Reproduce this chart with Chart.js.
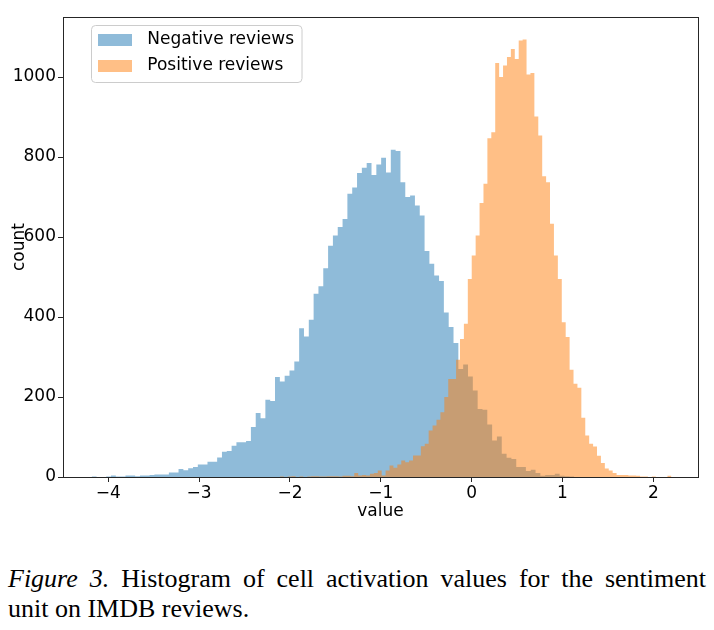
<!DOCTYPE html>
<html>
<head>
<meta charset="utf-8">
<script src="https://cdn.jsdelivr.net/npm/chart.js@4/dist/chart.umd.min.js"></script>
<style>
html, body { margin: 0; padding: 0; background: #fff; }
#wrap { position: absolute; left: 0; top: 0; width: 714px; height: 530px; }
#cap { position: absolute; left: 8px; top: 564px; width: 698px; font-family: "Liberation Serif", "Times New Roman", serif; font-size: 26px; line-height: 30px; color: #000; }
#cap .l1 { text-align: justify; text-align-last: justify; white-space: nowrap; }
#cap .l2 { text-align: left; }
</style>
</head>
<body>
<div id="wrap"><canvas id="c" width="714" height="530"></canvas></div>
<div id="cap">
  <div class="l1"><i>Figure 3.</i> Histogram of cell activation values for the sentiment</div>
  <div class="l2">unit on IMDB reviews.</div>
</div>
<script>
// ---- data ----
const seriesLabels = ['Negative reviews', 'Positive reviews'];

// histogram bin layout (value units)
const negBinStart = -4.1827, negBinWidth = 0.05311;
const posBinStart = -2.1109, posBinWidth = 0.04310;

const negCounts = [
  1, 0, 0, 1, 4, 1, 1, 4, 4, 2,
  4, 4, 5, 6, 6, 6, 11, 11, 20, 17,
  22, 25, 31, 31, 38, 38, 49, 63, 65, 78,
  87, 87, 90, 125, 160, 147, 193, 190, 250, 239,
  253, 266, 289, 372, 351, 393, 458, 477, 522, 578,
  604, 625, 645, 708, 724, 760, 773, 785, 755, 781,
  798, 761, 818, 815, 737, 700, 704, 679, 654, 565,
  533, 504, 490, 411, 375, 335, 270, 281, 251, 216,
  170, 168, 131, 91, 101, 58, 48, 45, 25, 25,
  15, 18, 10, 3, 5, 5, 8, 3, 2, 1
];

const posCounts = [
  1, 0, 1, 2, 0, 1, 0, 1, 2, 2,
  1, 1, 2, 2, 2, 1, 3, 3, 2, 10,
  4, 5, 4, 8, 10, 16, 4, 16, 29, 23,
  31, 41, 37, 41, 54, 54, 77, 83, 116, 129,
  143, 162, 200, 245, 245, 293, 345, 383, 495, 554,
  604, 685, 733, 847, 862, 1035, 1000, 1029, 1050, 1070,
  1045, 1091, 1094, 1006, 1010, 901, 854, 752, 737, 633,
  554, 495, 387, 350, 268, 233, 223, 148, 104, 83,
  76, 53, 35, 21, 16, 10, 5, 5, 5, 4,
  4, 3, 1, 1, 0, 1, 0, 0, 0, 3
];

const xTicks = [-4, -3, -2, -1, 0, 1, 2];
const xTickLabels = ['\u22124', '\u22123', '\u22122', '\u22121', '0', '1', '2'];
const yTicks = [0, 200, 400, 600, 800, 1000];
const yTickLabels = ['0', '200', '400', '600', '800', '1000'];
const xRange = [-4.4987, 2.492];
const yRange = [0, 1150];

// ---- styling / layout ----
const W = 714, H = 530;
const AREA = { left: 63, top: 17, right: 698, bottom: 477 };
const BLUE = 'rgba(31,119,180,0.5)';
const ORANGE = 'rgba(255,127,14,0.5)';
const TXT = '#000000';
const SPINE = '#262626';
const tickFont = { family: 'DejaVu Sans', size: 17 };
const titleFont = { family: 'DejaVu Sans', size: 17 };
const legendFont = { family: 'DejaVu Sans', size: 17 };

function histPoints(start, width, counts) {
  const pts = counts.map((c, i) => ({ x: start + i * width, y: c }));
  pts.push({ x: start + counts.length * width, y: 0 });
  return pts;
}

function patch(color) {
  const cv = document.createElement('canvas');
  cv.width = 34; cv.height = 12;
  const g = cv.getContext('2d');
  g.fillStyle = color;
  g.fillRect(0, 0, 34, 12);
  return cv;
}
const legendPatches = [patch(BLUE), patch(ORANGE)];

const framePlugin = {
  id: 'mplFrame',
  afterLayout(chart) {
    const lg = chart.legend;
    if (lg) { lg.left = 82.8; lg.top = 22.5; }
  },
  beforeDraw(chart) {
    const ctx = chart.ctx;
    ctx.save();
    ctx.beginPath();
    if (ctx.roundRect) ctx.roundRect(91.5, 25.5, 210.5, 57, 4);
    else ctx.rect(91.5, 25.5, 210.5, 57);
    ctx.fillStyle = 'rgba(255,255,255,0.8)';
    ctx.fill();
    ctx.strokeStyle = '#cccccc';
    ctx.lineWidth = 1;
    ctx.stroke();
    ctx.restore();
  },
  afterDraw(chart) {
    const ctx = chart.ctx;
    const a = chart.chartArea;
    ctx.save();
    ctx.strokeStyle = SPINE;
    ctx.lineWidth = 1;
    ctx.beginPath();
    ctx.moveTo(a.left, a.top + 0.5);
    ctx.lineTo(a.right + 1, a.top + 0.5);
    ctx.moveTo(a.right + 0.5, a.top);
    ctx.lineTo(a.right + 0.5, a.bottom + 1);
    ctx.stroke();
    ctx.restore();
  }
};

new Chart(document.getElementById('c').getContext('2d'), {
  type: 'line',
  data: {
    datasets: [
      {
        label: seriesLabels[0],
        data: histPoints(negBinStart, negBinWidth, negCounts),
        stepped: true,
        fill: 'origin',
        backgroundColor: BLUE,
        borderColor: 'rgba(0,0,0,0)',
        borderWidth: 0,
        pointRadius: 0,
        pointHoverRadius: 0,
        order: 2
      },
      {
        label: seriesLabels[1],
        data: histPoints(posBinStart, posBinWidth, posCounts),
        stepped: true,
        fill: 'origin',
        backgroundColor: ORANGE,
        borderColor: 'rgba(0,0,0,0)',
        borderWidth: 0,
        pointRadius: 0,
        pointHoverRadius: 0,
        order: 1
      }
    ]
  },
  options: {
    responsive: false,
    animation: false,
    events: [],
    layout: { padding: { left: 0, top: AREA.top, right: W - AREA.right, bottom: 0 } },
    plugins: {
      tooltip: { enabled: false },
      legend: {
        position: 'chartArea',
        align: 'start',
        labels: {
          usePointStyle: true,
          pointStyleWidth: 47,
          padding: 9,
          font: legendFont,
          color: TXT,
          generateLabels: (chart) => chart.data.datasets.map((ds, i) => ({
            text: ds.label,
            fillStyle: ds.backgroundColor,
            strokeStyle: 'rgba(0,0,0,0)',
            lineWidth: 0,
            pointStyle: legendPatches[i],
            hidden: false,
            datasetIndex: i,
            fontColor: TXT
          }))
        }
      }
    },
    scales: {
      x: {
        type: 'linear',
        min: xRange[0],
        max: xRange[1],
        afterBuildTicks: (s) => { s.ticks = xTicks.map(v => ({ value: v })); },
        afterFit: (s) => { s.height = H - AREA.bottom; },
        ticks: {
          autoSkip: false, maxRotation: 0, padding: 1,
          font: tickFont, color: TXT,
          callback: (v, i) => xTickLabels[i]
        },
        grid: { display: true, drawOnChartArea: false, drawTicks: true, tickLength: 5, tickColor: SPINE, tickWidth: 1 },
        border: { display: true, color: SPINE, width: 1 },
        title: { display: true, text: 'value', font: titleFont, color: TXT, padding: { top: 0, bottom: 7.8 } }
      },
      y: {
        type: 'linear',
        min: yRange[0],
        max: yRange[1],
        afterBuildTicks: (s) => { s.ticks = yTicks.map(v => ({ value: v })); },
        afterFit: (s) => { s.width = AREA.left; },
        ticks: {
          autoSkip: false, padding: 2,
          font: tickFont, color: TXT,
          callback: (v, i) => yTickLabels[i]
        },
        grid: { display: true, drawOnChartArea: false, drawTicks: true, tickLength: 5, tickColor: SPINE, tickWidth: 1 },
        border: { display: true, color: SPINE, width: 1 },
        title: { display: true, text: 'count', font: titleFont, color: TXT, padding: { top: 9.8, bottom: 0 } }
      }
    }
  },
  plugins: [framePlugin]
});
</script>
</body>
</html>
